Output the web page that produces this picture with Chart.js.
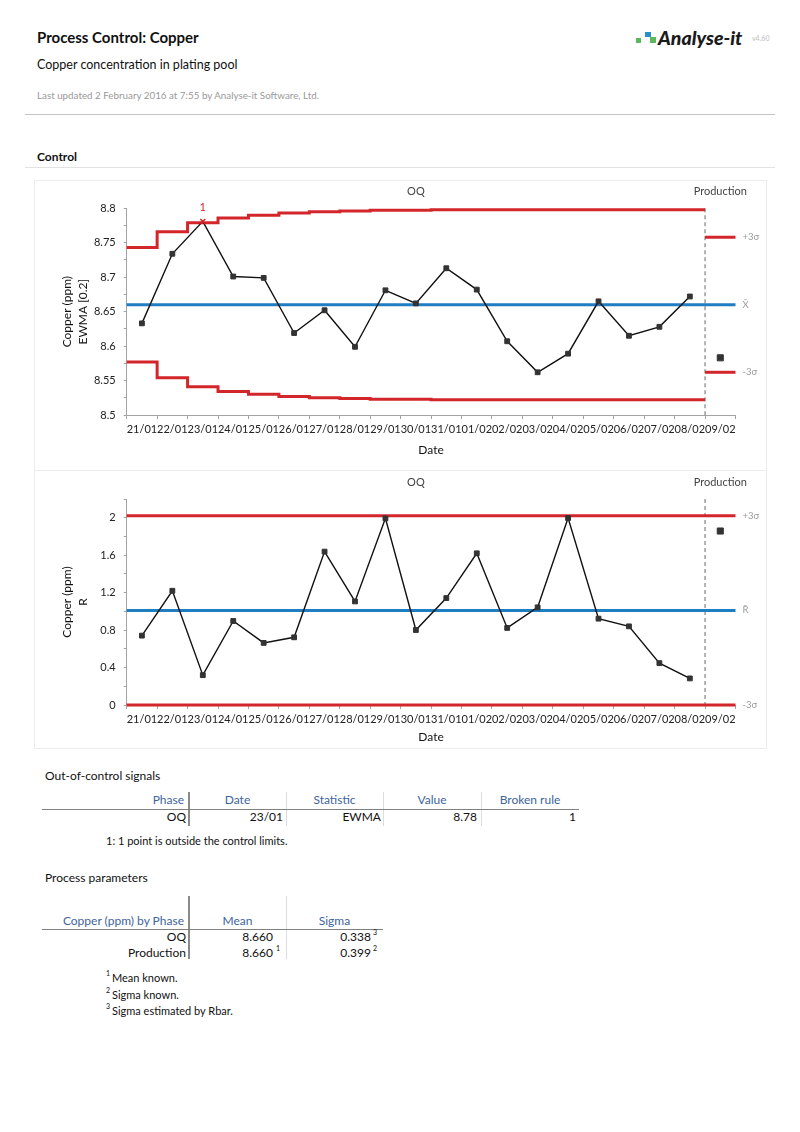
<!DOCTYPE html>
<html>
<head>
<meta charset="utf-8">
<script src="https://cdn.jsdelivr.net/npm/chart.js@4.4.1/dist/chart.umd.min.js"></script>
<style>
body { margin: 0; width: 800px; height: 1132px; background: #fff; position: relative; overflow: hidden;
       font-family: Lato, "Open Sans", sans-serif; color: #111; }
.t { position: absolute; white-space: nowrap; line-height: 1; }
.c { text-align: center; }
.hd { color: #3d649c; }
.hr { position: absolute; height: 0; border-top: 1px solid #808080; }
.vr { position: absolute; width: 0; border-left: 1px solid #dcdcdc; }
.vr.k { border-left: 2px solid #8a8a8a; }
.sq { position: absolute; }
.wrap { position: absolute; left: 34px; width: 732px; }
</style>
</head>
<body>

<div class="t" style="left:37px;top:30px;font-size:15px;font-weight:bold">Process Control: Copper</div>
<div class="sq" style="left:636px;top:38px;width:5px;height:5px;background:#5cb85c"></div>
<div class="sq" style="left:645px;top:32px;width:6px;height:5px;background:#2a8fd0"></div>
<div class="sq" style="left:650px;top:37px;width:6px;height:6px;background:#5cb85c"></div>
<div class="t" style="left:658px;top:28px;font-size:19.5px;font-weight:900;font-style:italic;color:#1a1a1a">Analyse-it</div>
<div class="t" style="left:752px;top:35px;font-size:7px;color:#bbb">v4.60</div>
<div class="t" style="left:37px;top:59px;font-size:12.5px">Copper concentration in plating pool</div>
<div class="t" style="left:37px;top:91px;font-size:9.8px;color:#999">Last updated 2 February 2016 at 7:55 by Analyse-it Software, Ltd.</div>
<div class="hr" style="left:25px;top:114px;width:750px;border-color:#c4c4c4"></div>
<div class="t" style="left:37px;top:151px;font-size:12px;font-weight:bold">Control</div>
<div class="hr" style="left:25px;top:167px;width:750px;border-color:#e2e2e2"></div>

<div style="position:absolute;left:34px;top:180px;width:731px;height:567px;border:1px solid #ececec"></div>
<div class="hr" style="left:34px;top:470px;width:732px;border-color:#ececec"></div>
<div class="wrap" style="top:180px;height:290px"><canvas id="ewmaChart"></canvas></div>
<div class="wrap" style="top:470px;height:278px"><canvas id="rangeChart"></canvas></div>

<div class="t" style="left:45px;top:770px;font-size:12px">Out-of-control signals</div>
<div class="vr k" style="left:188px;top:792px;height:34px"></div>
<div class="vr" style="left:286px;top:792px;height:34px"></div>
<div class="vr" style="left:383px;top:792px;height:34px"></div>
<div class="vr" style="left:481px;top:792px;height:34px"></div>
<div class="hr" style="left:42px;top:809px;width:537px"></div>
<div class="t hd" style="right:616px;top:794px;font-size:12px">Phase</div>
<div class="t hd c" style="left:189px;width:97px;top:794px;font-size:12px">Date</div>
<div class="t hd c" style="left:286px;width:97px;top:794px;font-size:12px">Statistic</div>
<div class="t hd c" style="left:383px;width:98px;top:794px;font-size:12px">Value</div>
<div class="t hd c" style="left:481px;width:98px;top:794px;font-size:12px">Broken rule</div>
<div class="t" style="right:614px;top:811px;font-size:12px">OQ</div>
<div class="t" style="right:517px;top:811px;font-size:12px">23/01</div>
<div class="t" style="right:419px;top:811px;font-size:12px">EWMA</div>
<div class="t" style="right:323px;top:811px;font-size:12px">8.78</div>
<div class="t" style="right:224px;top:811px;font-size:12px">1</div>
<div class="t" style="left:106px;top:835px;font-size:11px">1: 1 point is outside the control limits.</div>

<div class="t" style="left:45px;top:872px;font-size:12px">Process parameters</div>
<div class="vr k" style="left:188px;top:896px;height:63px"></div>
<div class="vr" style="left:286px;top:896px;height:63px"></div>
<div class="hr" style="left:42px;top:929px;width:341px"></div>
<div class="t hd" style="right:616px;top:915px;font-size:12px">Copper (ppm) by Phase</div>
<div class="t hd c" style="left:189px;width:97px;top:915px;font-size:12px">Mean</div>
<div class="t hd c" style="left:286px;width:97px;top:915px;font-size:12px">Sigma</div>
<div class="t" style="right:614px;top:931px;font-size:12px">OQ</div>
<div class="t" style="right:614px;top:947px;font-size:12px">Production</div>
<div class="t" style="right:527px;top:931px;font-size:12px">8.660</div>
<div class="t" style="right:527px;top:947px;font-size:12px">8.660</div>
<div class="t" style="left:276px;top:945px;font-size:7px">1</div>
<div class="t" style="right:429px;top:931px;font-size:12px">0.338</div>
<div class="t" style="right:429px;top:947px;font-size:12px">0.399</div>
<div class="t" style="left:373px;top:929px;font-size:7px">3</div>
<div class="t" style="left:373px;top:945px;font-size:7px">2</div>
<div class="t" style="left:106px;top:970px;font-size:7px">1</div>
<div class="t" style="left:112px;top:972px;font-size:11px">Mean known.</div>
<div class="t" style="left:106px;top:987px;font-size:7px">2</div>
<div class="t" style="left:112px;top:989px;font-size:11px">Sigma known.</div>
<div class="t" style="left:106px;top:1003px;font-size:7px">3</div>
<div class="t" style="left:112px;top:1005px;font-size:11px">Sigma estimated by Rbar.</div>

<script>
const FONT = 'Lato, "Open Sans", sans-serif';
const RED = '#d3262b';
const BLUE = '#1f7dc1';
const AXIS = '#a3a3a3';

const dates = ['21/01','22/01','23/01','24/01','25/01','26/01','27/01','28/01','29/01','30/01',
               '31/01','01/02','02/02','03/02','04/02','05/02','06/02','07/02','08/02','09/02'];
const phases = ['OQ', 'Production'];
const phaseEdges = [0, 19, 20];

// EWMA chart (OQ phase, then one production point)
const ewma = [8.633, 8.734, 8.781, 8.701, 8.699, 8.619, 8.652, 8.599, 8.681, 8.662,
              8.713, 8.682, 8.607, 8.562, 8.589, 8.665, 8.615, 8.628, 8.672];
const ewmaProd = 8.583;
const ewmaUcl = [8.743, 8.766, 8.779, 8.786, 8.790, 8.793, 8.795, 8.796, 8.797, 8.797,
                 8.798, 8.798, 8.798, 8.798, 8.798, 8.798, 8.798, 8.798, 8.798];
const ewmaLcl = [8.577, 8.554, 8.541, 8.534, 8.530, 8.527, 8.525, 8.524, 8.523, 8.523,
                 8.522, 8.522, 8.522, 8.522, 8.522, 8.522, 8.522, 8.522, 8.522];
const ewmaCl = 8.660;
const ewmaProdLimits = [8.758, 8.562];
const ewmaSignals = [2];
const ewmaSignalRules = ['1'];

// Range chart
const range = [0.741, 1.220, 0.319, 0.897, 0.663, 0.723, 1.638, 1.106, 1.993, 0.801,
               1.142, 1.620, 0.823, 1.043, 1.997, 0.922, 0.840, 0.447, 0.284];
const rangeProd = 1.858;
const rangeUcl = 2.02;
const rangeCl = 1.01;
const rangeLcl = 0;

function seg(x0, x1, v) { return [{x: x0, y: v}, {x: x1, y: v}]; }
function steps(vals, start) {
    const pts = vals.map((v, i) => ({x: start + i, y: v}));
    pts.push({x: start + vals.length, y: vals[vals.length - 1]});
    return pts;
}
function limit(data, color, stepped) {
    return { xAxisID: 'xs', data, borderColor: color, borderWidth: 3, pointRadius: 0,
             stepped: !!stepped, clip: false, order: 2 };
}

const annotate = {
    id: 'annotate',
    afterDatasetsDraw(chart, args, opts) {
        const { ctx, chartArea, scales } = chart;
        ctx.save();
        ctx.font = '11px ' + FONT;
        ctx.textAlign = 'center';
        ctx.textBaseline = 'middle';
        ctx.fillStyle = '#444';
        phases.forEach((p, i) => {
            const x = scales.xs.getPixelForValue((phaseEdges[i] + phaseEdges[i + 1]) / 2);
            ctx.fillText(p, x, chartArea.top - 17);
        });
        ctx.fillStyle = RED;
        const pts = chart.getDatasetMeta(0).data;
        (opts.signals || []).forEach((idx, k) => {
            ctx.fillText(opts.rules[k], pts[idx].x, pts[idx].y - 14);
        });
        ctx.restore();
    }
};

function makeChart(id, o) {
    const last = dates.length - 1;
    const sig = o.signals || [];
    const datasets = [{
        data: o.series.concat([null]),
        borderColor: '#111', borderWidth: 1.4,
        pointStyle: c => sig.includes(c.dataIndex) ? 'crossRot' : 'rect',
        pointRadius: c => sig.includes(c.dataIndex) ? 3.5 : 3.4,
        pointBackgroundColor: '#333',
        pointBorderColor: c => sig.includes(c.dataIndex) ? RED : '#333',
        pointBorderWidth: c => sig.includes(c.dataIndex) ? 1.5 : 1,
        order: 0
    }, {
        data: dates.map((d, i) => i === last ? o.prod : null),
        showLine: false, pointStyle: 'rect', pointRadius: 4.3,
        pointBackgroundColor: '#333', pointBorderColor: '#333', order: 0
    }].concat(o.limits, [{
        xAxisID: 'xs',
        data: [{x: phaseEdges[1], y: o.max}, {x: phaseEdges[1], y: o.min}],
        borderColor: '#9a9a9a', borderDash: [4, 3], borderWidth: 1.5, pointRadius: 0,
        clip: false, order: 3
    }]);

    return new Chart(document.getElementById(id), {
        type: 'line',
        data: { labels: dates, datasets },
        plugins: [annotate],
        options: {
            responsive: true,
            maintainAspectRatio: false,
            animation: false,
            events: [],
            layout: { padding: { top: o.top, left: 0, right: 0, bottom: 0 } },
            plugins: {
                legend: { display: false },
                tooltip: { enabled: false },
                annotate: { signals: sig, rules: o.rules || [] }
            },
            scales: {
                x: {
                    offset: true,
                    grid: { offset: true, drawOnChartArea: false, tickLength: 4, color: AXIS },
                    border: { color: AXIS },
                    ticks: { autoSkip: false, maxRotation: 0, padding: 4, color: '#222',
                             font: { family: FONT, size: 11 } },
                    title: { display: true, text: 'Date', color: '#111',
                             font: { family: FONT, size: 12 }, padding: { top: 0, bottom: o.datePad } },
                    afterFit: s => { s.height = o.xHeight; }
                },
                xs: { type: 'linear', display: false, min: 0, max: 20 },
                y: {
                    min: o.min, max: o.max,
                    grid: { drawOnChartArea: false, tickLength: 3, color: AXIS },
                    border: { color: AXIS },
                    ticks: { stepSize: o.step, padding: 8, color: '#222', font: { family: FONT, size: 11 },
                             callback: v => Math.abs(v / o.major - Math.round(v / o.major)) < 1e-6
                                 ? String(+v.toFixed(2)) : '' },
                    title: { display: true, text: o.yTitle, color: '#111',
                             font: { family: FONT, size: 12, lineHeight: 1.33 }, padding: { top: 25, bottom: 0 } },
                    afterFit: s => { s.width = 92.7; }
                },
                yr: {
                    position: 'right', min: o.min, max: o.max,
                    grid: { display: false, drawTicks: false },
                    border: { display: false },
                    afterBuildTicks: s => { s.ticks = o.right.map(v => ({ value: v })); },
                    ticks: { padding: 7, color: '#9a9a9a', font: { family: FONT, size: 9.5 },
                             callback: (v, i) => o.rightLabels[i] },
                    afterFit: s => { s.width = 30.5; }
                }
            }
        }
    });
}

makeChart('ewmaChart', {
    series: ewma, prod: ewmaProd, signals: ewmaSignals, rules: ewmaSignalRules,
    min: 8.5, max: 8.8, step: 0.025, major: 0.05,
    top: 28.3, xHeight: 55, datePad: 12.5,
    yTitle: ['Copper (ppm)', 'EWMA [0.2]'],
    right: [ewmaProdLimits[0], ewmaCl, ewmaProdLimits[1]],
    rightLabels: ['+3\u03c3', 'X\u0304', '-3\u03c3'],
    limits: [
        limit(steps(ewmaUcl, 0), RED, true),
        limit(steps(ewmaLcl, 0), RED, true),
        limit(seg(phaseEdges[1], phaseEdges[2], ewmaProdLimits[0]), RED),
        limit(seg(phaseEdges[1], phaseEdges[2], ewmaProdLimits[1]), RED),
        limit(seg(phaseEdges[0], phaseEdges[2], ewmaCl), BLUE)
    ]
});

makeChart('rangeChart', {
    series: range, prod: rangeProd,
    min: 0, max: 2.2, step: 0.2, major: 0.4,
    top: 29, xHeight: 43, datePad: 3.5,
    yTitle: ['Copper (ppm)', 'R'],
    right: [rangeUcl, rangeCl, rangeLcl],
    rightLabels: ['+3\u03c3', 'R\u0304', '-3\u03c3'],
    limits: [
        limit(seg(phaseEdges[0], phaseEdges[2], rangeUcl), RED),
        limit(seg(phaseEdges[0], phaseEdges[2], rangeLcl), RED),
        limit(seg(phaseEdges[0], phaseEdges[2], rangeCl), BLUE)
    ]
});
</script>
</body>
</html>
